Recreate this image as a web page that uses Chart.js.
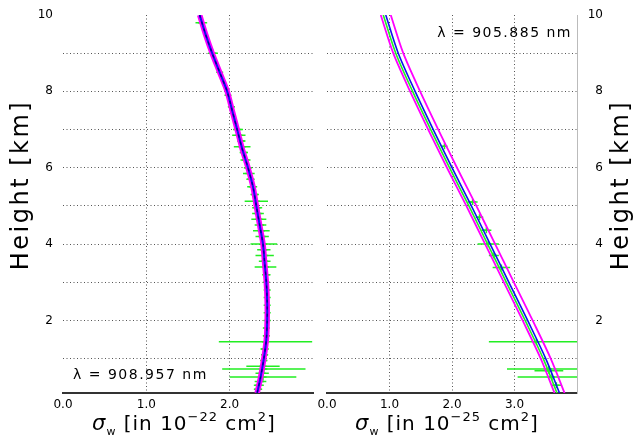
<!DOCTYPE html>
<html>
<head>
<meta charset="utf-8">
<script src="https://cdn.jsdelivr.net/npm/chart.js@4.4.0/dist/chart.umd.min.js"></script>
<style>
  body { margin: 0; background: #fff; }
  #wrap { position: relative; width: 633px; height: 439px; }
  canvas { position: absolute; top: 0; }
</style>
</head>
<body>
<div id="wrap">
  <canvas id="leftChart" width="320" height="439" style="left:0"></canvas>
  <canvas id="rightChart" width="333" height="439" style="left:300px"></canvas>
</div>
<script>
// ---- left panel (908.957 nm) ----
const leftHeights = [10, 9.5, 9, 8.5, 8, 7.5, 7, 6.5, 6, 5.5, 5, 4.5, 4, 3.5, 3, 2.5, 2, 1.5, 1, 0.5, 0.1];
const leftModel   = [1.64, 1.71, 1.79, 1.88, 1.97, 2.03, 2.09, 2.15, 2.22, 2.28, 2.32, 2.36, 2.40, 2.42, 2.44, 2.45, 2.45, 2.44, 2.41, 2.37, 2.33];

const leftObsH   = [9.8, 9.0, 8.5, 7.9, 7.6, 7.0, 6.85, 6.7, 6.55, 6.4, 6.2, 6.0, 5.85, 5.7, 5.5, 5.3, 5.12, 4.95, 4.8, 4.65, 4.5, 4.35, 4.2, 4.0, 3.85, 3.7, 3.55, 3.4, 3.2, 3.0, 2.8, 2.6, 2.4, 2.2, 2.0, 1.8, 1.6, 1.44, 1.25, 1.1, 0.95, 0.8, 0.73, 0.62, 0.52, 0.4, 0.3, 0.2];
const leftObsX   = [1.66, 1.80, 1.88, 1.98, 2.02, 2.10, 2.11, 2.14, 2.15, 2.17, 2.19, 2.22, 2.23, 2.25, 2.27, 2.30, 2.32, 2.33, 2.34, 2.35, 2.37, 2.38, 2.39, 2.41, 2.41, 2.42, 2.42, 2.43, 2.44, 2.44, 2.45, 2.45, 2.45, 2.45, 2.45, 2.44, 2.44, 2.43, 2.42, 2.42, 2.41, 2.40, 2.41, 2.39, 2.40, 2.37, 2.35, 2.34];
const leftObsErr = [0.07, 0.06, 0.03, 0.03, 0.04, 0.06, 0.08, 0.05, 0.10, 0.05, 0.06, 0.05, 0.07, 0.05, 0.06, 0.05, 0.14, 0.06, 0.07, 0.09, 0.07, 0.10, 0.08, 0.16, 0.08, 0.11, 0.07, 0.13, 0.05, 0.03, 0.03, 0.02, 0.03, 0.02, 0.02, 0.03, 0.04, 0.56, 0.05, 0.04, 0.04, 0.20, 0.50, 0.08, 0.40, 0.07, 0.06, 0.05];

// ---- right panel (905.885 nm) ----
const rightHeights = [10, 9, 8, 7, 6, 5, 4, 3, 2, 1, 0.1];
const rightFit     = [0.94, 1.14, 1.41, 1.70, 2.00, 2.31, 2.61, 2.91, 3.21, 3.50, 3.72];
const rightGreen   = [0.90, 1.10, 1.37, 1.66, 1.96, 2.27, 2.57, 2.87, 3.17, 3.46, 3.68];
const rightLower   = [0.86, 1.06, 1.33, 1.62, 1.92, 2.23, 2.53, 2.83, 3.13, 3.42, 3.64];
const rightUpper   = [1.02, 1.22, 1.49, 1.78, 2.08, 2.39, 2.69, 2.99, 3.29, 3.58, 3.80];

const rightObsH   = [6.56, 5.1, 4.7, 4.36, 4.0, 3.7, 3.39, 1.44, 0.73, 0.68, 0.52, 0.3];
const rightObsX   = [1.88, 2.33, 2.44, 2.55, 2.58, 2.67, 2.79, 3.35, 3.55, 3.55, 3.60, 3.67];
const rightObsErr = [0.03, 0.08, 0.06, 0.08, 0.17, 0.08, 0.14, 0.76, 0.67, 0.23, 0.55, 0.08];

// ---- ticks ----
const yTickValues = [1, 2, 3, 4, 5, 6, 7, 8, 9, 10];
const yTickLabels = ['', '2', '', '4', '', '6', '', '8', '', '10'];
const leftXTicks  = [0, 1, 2, 3];
const leftXLabels = ['0.0', '1.0', '2.0', ''];
const rightXTicks  = [0, 1, 2, 3, 4];
const rightXLabels = ['0.0', '1.0', '2.0', '3.0', ''];

const GREEN = '#22ee22';
const MAGENTA = '#ff00ff';
const BLUE = '#1010ee';
const GRID = '#555';
const FONT = '"DejaVu Sans"';

Chart.defaults.font.family = FONT;
Chart.defaults.font.size = 12;
Chart.defaults.color = '#000';

function pts(xs, hs) {
  return hs.map((h, i) => ({x: xs[i], y: h}));
}

function errorBars(hs, xs, es) {
  const out = [];
  hs.forEach((h, i) => {
    out.push({x: xs[i] - es[i], y: h}, {x: xs[i] + es[i], y: h}, {x: xs[i], y: null});
  });
  return out;
}

function fixBox(size) {
  return function (scale) {
    if (scale.isHorizontal()) scale.height = size; else scale.width = size;
    scale.paddingTop = 0; scale.paddingBottom = 0;
    scale.paddingLeft = 0; scale.paddingRight = 0;
  };
}

function setTicks(values) {
  return function (scale) {
    scale.ticks = values.map(v => ({value: v}));
  };
}

function drawXTitle(ctx, cx, y, exponent) {
  const parts = [
    {t: 'σ', f: 'italic 21px ' + FONT, dy: 0},
    {t: 'w', f: '11px ' + FONT, dy: 5},
    {t: ' [in 10', f: '20px ' + FONT, dy: 0},
    {t: exponent, f: '13px ' + FONT, dy: -9},
    {t: ' cm', f: '20px ' + FONT, dy: 0},
    {t: '2', f: '13px ' + FONT, dy: -9},
    {t: ']', f: '20px ' + FONT, dy: 0}
  ];
  ctx.save();
  ctx.letterSpacing = '1px';
  ctx.textBaseline = 'alphabetic';
  ctx.textAlign = 'left';
  ctx.fillStyle = '#000';
  let total = 0;
  parts.forEach(p => { ctx.font = p.f; p.w = ctx.measureText(p.t).width; total += p.w; });
  let x = cx - total / 2;
  parts.forEach(p => { ctx.font = p.f; ctx.fillText(p.t, x, y + p.dy); x += p.w; });
  ctx.restore();
}

const textPlugin = {
  id: 'panelText',
  afterDraw(chart, args, o) {
    const ctx = chart.ctx;
    ctx.save();
    ctx.fillStyle = '#000';
    ctx.font = '14px ' + FONT;
    ctx.letterSpacing = '1.5px';
    ctx.textAlign = o.lambdaAlign;
    ctx.textBaseline = 'middle';
    ctx.fillText(o.lambda, o.lambdaX, o.lambdaY);
    ctx.translate(o.yTitleX, o.yTitleY);
    ctx.rotate(-Math.PI / 2);
    ctx.font = '24px ' + FONT;
    ctx.letterSpacing = '2.5px';
    ctx.textAlign = 'center';
    ctx.fillText('Height [km]', 0, 0);
    ctx.restore();
    drawXTitle(ctx, o.xTitleX, o.xTitleY, o.exponent);
  }
};

function gridColor(values) {
  return ctx => (ctx.tick && values.includes(ctx.tick.value)) ? GRID : 'rgba(0,0,0,0)';
}

function makeConfig(datasets, xMax, xTicks, xLabels, gridX, yPos, yWidth, padding, yTickPad, text) {
  return {
    type: 'line',
    data: {datasets: datasets},
    options: {
      responsive: false,
      animation: false,
      layout: {padding: padding},
      scales: {
        x: {
          type: 'linear',
          min: 0,
          max: xMax,
          afterBuildTicks: setTicks(xTicks),
          afterFit: fixBox(46),
          grid: {color: gridColor(gridX), lineWidth: 1, drawTicks: false},
          border: {display: true, color: '#333', width: 2, dash: [1, 2.5]},
          ticks: {padding: 5, maxRotation: 0, autoSkip: false, callback: (v, i) => xLabels[i]}
        },
        y: {
          type: 'linear',
          position: yPos,
          min: 0.1,
          max: 10,
          afterBuildTicks: setTicks(yTickValues),
          afterFit: fixBox(yWidth),
          grid: {color: gridColor([1, 2, 3, 4, 5, 6, 7, 8, 9]), lineWidth: 1, drawTicks: false},
          border: {display: yPos === 'right', color: '#bbb', width: 1, dash: [1, 2.5]},
          ticks: {padding: yTickPad, crossAlign: yPos === 'right' ? 'far' : 'near', autoSkip: false,
                   callback: (v, i) => yTickLabels[i]}
        }
      },
      plugins: {
        legend: {display: false},
        tooltip: {enabled: false},
        panelText: text
      }
    },
    plugins: [textPlugin]
  };
}

const leftDatasets = [
  {data: pts(leftModel, leftHeights), borderColor: '#000080', borderWidth: 1.2, borderDash: [3, 4], pointRadius: 0, tension: 0.3},
  {data: pts(leftModel, leftHeights), borderColor: BLUE, borderWidth: 2, pointRadius: 0, tension: 0.3},
  {data: pts(leftModel, leftHeights), borderColor: MAGENTA, borderWidth: 5.5, pointRadius: 0, tension: 0.3},
  {data: pts(leftObsX, leftObsH), showLine: false, pointStyle: 'cross', pointRadius: 3.5, borderColor: GREEN, borderWidth: 1.5},
  {data: errorBars(leftObsH, leftObsX, leftObsErr), borderColor: GREEN, borderWidth: 1.5, pointRadius: 0, spanGaps: false}
];

const rightDatasets = [
  {data: pts(rightFit, rightHeights), borderColor: BLUE, borderWidth: 1.6, pointRadius: 0, tension: 0.3},
  {data: pts(rightGreen, rightHeights), borderColor: GREEN, borderWidth: 1.6, pointRadius: 0, tension: 0.3},
  {data: pts(rightLower, rightHeights), borderColor: MAGENTA, borderWidth: 1.8, pointRadius: 0, tension: 0.3},
  {data: pts(rightUpper, rightHeights), borderColor: MAGENTA, borderWidth: 1.8, pointRadius: 0, tension: 0.3},
  {data: pts(rightObsX, rightObsH), showLine: false, pointStyle: 'cross', pointRadius: 3, borderColor: GREEN, borderWidth: 1.5},
  {data: errorBars(rightObsH, rightObsX, rightObsErr), borderColor: GREEN, borderWidth: 1.5, pointRadius: 0, spanGaps: false}
];

const leftChart = new Chart(
  document.getElementById('leftChart'),
  makeConfig(leftDatasets, 3, leftXTicks, leftXLabels, [1, 2], 'left', 63,
    {top: 15, right: 7, bottom: 0, left: 0}, 10,
    {lambda: 'λ = 908.957 nm', lambdaAlign: 'left', lambdaX: 73, lambdaY: 375,
     yTitleX: 22, yTitleY: 185, xTitleX: 184, xTitleY: 430, exponent: '−22'})
);

// right canvas starts at x=300; plot area 327..577, labels end at 603
const rightChart = new Chart(
  document.getElementById('rightChart'),
  makeConfig(rightDatasets, 4, rightXTicks, rightXLabels, [1, 2, 3], 'right', 26,
    {top: 15, right: 30, bottom: 0, left: 27}, 11,
    {lambda: 'λ = 905.885 nm', lambdaAlign: 'right', lambdaX: 272, lambdaY: 33,
     yTitleX: 322, yTitleY: 185, xTitleX: 147, xTitleY: 430, exponent: '−25'})
);
</script>
</body>
</html>
